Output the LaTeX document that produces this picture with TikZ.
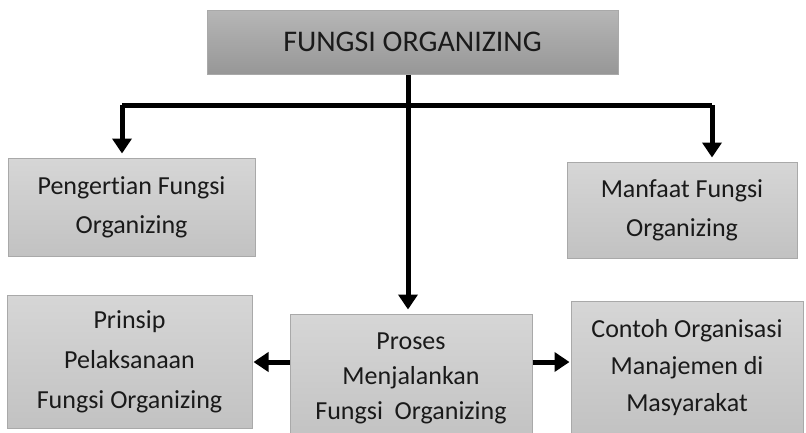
\documentclass[tikz,border=0pt]{standalone}
\usepackage{fontspec}
\setmainfont{Carlito}[Ligatures={NoCommon}]
\usetikzlibrary{arrows.meta,calc}
\definecolor{boxtop}{HTML}{D6D6D6}
\definecolor{boxbot}{HTML}{C2C2C2}
\definecolor{headtop}{HTML}{B6B6B6}
\definecolor{headbot}{HTML}{979797}
\definecolor{edge}{HTML}{A9A9A9}
\definecolor{ink}{HTML}{1A1A1A}
\tikzset{
  x=1pt, y=-1pt,
  topicbox/.style={draw=edge, line width=1pt, top color=boxtop, bottom color=boxbot,
    align=center, font=\fontsize{26}{39}\selectfont, text=ink, inner sep=0pt},
  headbox/.style={topicbox, top color=headtop, bottom color=headbot,
    font=\fontsize{30}{35}\selectfont},
  link/.style={line width=5pt, draw=black},
  arrowlink/.style={link, -{Triangle[length=15pt,width=19pt]}, shorten >=4pt},
}
\begin{document}
\begin{tikzpicture}
\useasboundingbox (0,0) rectangle (806,432);
% boxes
\node[headbox, minimum width=411pt, minimum height=64pt] (head) at (412.5,42) {FUNGSI ORGANIZING};
\node[topicbox, minimum width=247pt, minimum height=98pt] (peng) at (131.5,207) {Pengertian Fungsi\\Organizing};
\node[topicbox, minimum width=230pt, minimum height=96pt] (manf) at (682,210) {Manfaat Fungsi\\Organizing};
\node[topicbox, minimum width=245pt, minimum height=133pt, font=\fontsize{26}{40}\selectfont]
      (prin) at (129.5,361.5) {Prinsip\\Pelaksanaan\\Fungsi Organizing};
\node[topicbox, minimum width=242pt, minimum height=128pt,
      font=\fontsize{26}{35}\selectfont] (pros) at (411,378) {Proses\\Menjalankan\\Fungsi\ \ Organizing};
\node[topicbox, minimum width=232pt, minimum height=134pt,
      font=\fontsize{26}{37}\selectfont] (cont) at (687,368) {Contoh Organisasi\\Manajemen di\\Masyarakat};
% branch points
\coordinate (stem) at (408,105);
\coordinate (bl) at (122,105);
\coordinate (br) at (712,105);
\coordinate (mid) at (0,362);
% connectors
\draw[arrowlink] (head.south -| stem) -- (pros.north -| stem);
\draw[link] (bl) -- (br);
\draw[arrowlink] (bl) -- (peng.north -| bl);
\draw[arrowlink] (br) -- (manf.north -| br);
\draw[arrowlink, shorten >=1pt] (pros.west |- mid) -- (prin.east |- mid);
\draw[arrowlink, shorten >=1pt] (pros.east |- mid) -- (cont.west |- mid);
\end{tikzpicture}
\end{document}
